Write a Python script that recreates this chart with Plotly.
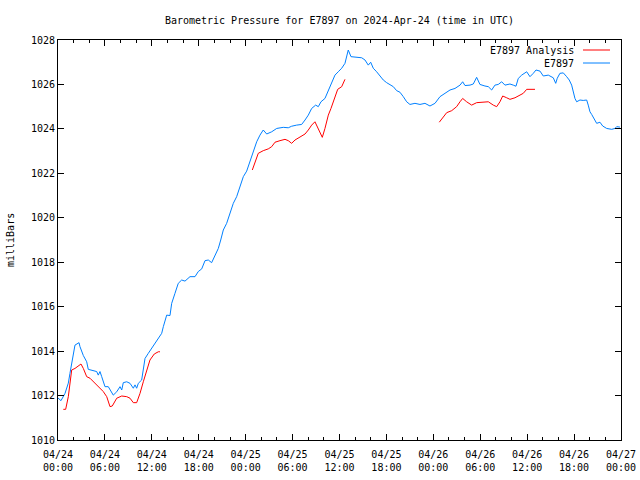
import pandas as pd
import plotly.graph_objects as go

START = pd.Timestamp("2024-04-24 00:00")

# E7897 observed (hours since 04/24 00:00, millibars)
obs_hours = [0.0, 0.38, 0.9, 1.32, 1.53, 1.75, 1.96, 2.17, 2.69, 2.81, 3.24, 3.67, 3.87, 4.51, 4.95,
             5.15, 5.37, 5.59, 6.01, 6.43, 6.87, 7.07, 7.51, 7.93, 8.15, 8.35, 8.79, 9.21, 9.63, 9.85,
             10.06, 10.27, 10.7, 10.91, 11.13, 11.55, 11.98, 12.4, 12.83, 13.26, 13.47, 13.9, 14.32,
             14.54, 14.96, 15.38, 15.82, 16.24, 16.88, 17.52, 17.94, 18.38, 18.8, 19.22, 19.65, 20.08,
             20.5, 20.81, 21.14, 21.57, 22.0, 22.42, 22.85, 23.27, 23.7, 24.13, 24.55, 24.97, 25.41,
             25.83, 26.25, 26.69, 27.33, 27.97, 28.81, 29.45, 29.88, 30.52, 31.16, 31.59, 32.01, 32.44,
             32.95, 33.29, 33.63, 34.14, 34.57, 35.0, 35.42, 35.84, 36.28, 36.7, 37.12, 37.47, 37.98,
             38.84, 39.26, 39.68, 39.99, 40.32, 40.75, 41.18, 41.6, 42.03, 42.46, 42.88, 43.31, 43.73,
             44.16, 44.59, 45.01, 45.65, 46.29, 46.93, 47.57, 48.21, 48.85, 49.49, 50.13, 50.77, 51.41,
             51.75, 52.05, 52.69, 53.11, 53.54, 53.96, 54.6, 55.03, 55.46, 55.88, 56.3, 56.74, 57.16,
             57.8, 58.22, 58.57, 58.86, 59.3, 59.94, 60.36, 60.78, 61.13, 61.64, 62.06, 62.7, 63.34,
             63.65, 63.85, 64.19, 64.62, 65.05, 65.38, 65.69, 65.9, 66.11, 66.33, 66.75, 67.17, 67.61,
             67.81, 68.03, 68.25, 68.54, 68.89, 69.31, 69.66, 70.17, 70.81, 71.23, 71.45, 71.87]
obs_values = [1011.89, 1011.77, 1012.1, 1012.56, 1013.0, 1013.46, 1013.9, 1014.27, 1014.38, 1014.2,
              1013.8, 1013.52, 1013.18, 1013.12, 1013.08, 1012.92, 1013.08, 1012.85, 1012.4, 1012.4,
              1012.17, 1012.02, 1012.17, 1012.4, 1012.25, 1012.58, 1012.62, 1012.55, 1012.33, 1012.48,
              1012.33, 1012.55, 1012.7, 1013.15, 1013.67, 1013.9, 1014.13, 1014.35, 1014.58, 1014.8,
              1015.1, 1015.62, 1015.6, 1016.15, 1016.6, 1017.05, 1017.2, 1017.15, 1017.35, 1017.35,
              1017.58, 1017.7, 1018.07, 1018.1, 1017.98, 1018.32, 1018.62, 1019.0, 1019.45, 1019.75,
              1020.2, 1020.65, 1020.95, 1021.4, 1021.85, 1022.1, 1022.55, 1022.9, 1023.42, 1023.72,
              1023.95, 1023.77, 1023.87, 1024.02, 1024.07, 1024.05, 1024.12, 1024.17, 1024.2, 1024.4,
              1024.62, 1024.92, 1025.07, 1025.0, 1025.22, 1025.37, 1025.75, 1026.05, 1026.42, 1026.57,
              1026.73, 1026.95, 1027.55, 1027.25, 1027.22, 1027.2, 1027.1, 1026.87, 1027.0, 1026.73,
              1026.57, 1026.38, 1026.2, 1026.08, 1025.97, 1025.9, 1025.72, 1025.65, 1025.45, 1025.22,
              1025.1, 1025.15, 1025.1, 1025.15, 1025.03, 1025.15, 1025.45, 1025.6, 1025.75, 1025.82,
              1025.97, 1026.12, 1025.95, 1025.97, 1026.02, 1026.32, 1026.0, 1025.93, 1025.9, 1025.75,
              1025.97, 1026.0, 1026.12, 1025.97, 1026.02, 1025.97, 1025.92, 1026.27, 1026.42, 1026.57,
              1026.35, 1026.5, 1026.65, 1026.6, 1026.38, 1026.42, 1026.3, 1026.05, 1026.28, 1026.5,
              1026.52, 1026.35, 1026.2, 1025.97, 1025.67, 1025.37, 1025.22, 1025.3, 1025.28, 1025.3,
              1025.07, 1024.77, 1024.65, 1024.48, 1024.25, 1024.3, 1024.13, 1024.02, 1023.98, 1024.02,
              1024.1, 1024.08]

# E7897 Analysis (three runs, separated by gaps)
ana_hours = [0.68, 0.98, 1.32, 1.53, 1.75, 2.17, 2.6, 2.94, 3.24, 3.67, 4.09, 4.51, 5.15, 5.79, 6.23,
             6.65, 6.94, 7.51, 8.15, 8.79, 9.21, 9.63, 10.06, 10.49, 10.91, 11.34, 11.76, 12.31, 12.83,
             13.04,
             None,
             24.85, 25.19, 25.61, 26.25, 26.89, 27.33, 27.75, 28.39, 29.03, 29.45, 29.88, 30.31, 30.95,
             31.59, 32.01, 32.44, 32.86, 33.29, 33.8, 34.14, 34.57, 34.91, 35.33, 35.77, 36.28, 36.7,
             None,
             48.76, 49.27, 49.71, 50.35, 50.98, 51.41, 51.75, 52.26, 52.9, 53.54, 54.39, 55.03, 55.67,
             56.1, 56.52, 56.87, 57.38, 57.8, 58.44, 59.08, 59.5, 59.94, 61.0]
ana_values = [1011.38, 1011.38, 1011.95, 1012.55, 1013.15, 1013.22, 1013.32, 1013.42, 1013.22, 1012.85,
              1012.78, 1012.62, 1012.4, 1012.18, 1011.95, 1011.5, 1011.53, 1011.88, 1011.98, 1011.95,
              1011.88, 1011.68, 1011.68, 1012.1, 1012.62, 1013.15, 1013.6, 1013.87, 1013.97, 1013.97,
              None,
              1022.15, 1022.45, 1022.9, 1023.02, 1023.1, 1023.2, 1023.4, 1023.47, 1023.53, 1023.47,
              1023.35, 1023.5, 1023.65, 1023.77, 1023.95, 1024.17, 1024.32, 1024.02, 1023.62, 1024.02,
              1024.62, 1024.92, 1025.3, 1025.78, 1025.9, 1026.23,
              None,
              1024.3, 1024.55, 1024.73, 1024.82, 1025.0, 1025.22, 1025.37, 1025.22, 1025.07, 1025.18,
              1025.2, 1025.22, 1025.07, 1025.0, 1025.22, 1025.48, 1025.4, 1025.33, 1025.4, 1025.52,
              1025.6, 1025.78, 1025.78]

tick_hours = list(range(0, 73, 6))
tick_labels = ["04/24<br>00:00", "04/24<br>06:00", "04/24<br>12:00", "04/24<br>18:00",
               "04/25<br>00:00", "04/25<br>06:00", "04/25<br>12:00", "04/25<br>18:00",
               "04/26<br>00:00", "04/26<br>06:00", "04/26<br>12:00", "04/26<br>18:00",
               "04/27<br>00:00"]
y_ticks = [1010, 1012, 1014, 1016, 1018, 1020, 1022, 1024, 1026, 1028]

RED = "#ff0000"
BLUE = "#0080ff"
FONT = "DejaVu Sans Mono"


def to_time(hours):
    return [None if h is None else START + pd.Timedelta(hours=h) for h in hours]


fig = go.Figure()
fig.add_trace(go.Scatter(x=to_time(ana_hours), y=ana_values, mode="lines",
                         line=dict(color=RED, width=1), name="E7897 Analysis",
                         connectgaps=False))
fig.add_trace(go.Scatter(x=to_time(obs_hours), y=obs_values, mode="lines",
                         line=dict(color=BLUE, width=1), name="E7897"))

fig.update_layout(
    width=640, height=480,
    margin=dict(l=58, r=19, t=40, b=40, autoexpand=False),
    paper_bgcolor="white", plot_bgcolor="white",
    showlegend=False,
    font=dict(family=FONT, size=10, color="black"),
    title=dict(text="Barometric Pressure for E7897 on 2024-Apr-24 (time in UTC)",
               x=339.5 / 640, xanchor="center", y=1 - 20 / 480, yanchor="middle",
               font=dict(family=FONT, size=10, color="black")),
)

fig.update_xaxes(
    type="date", automargin=False,
    range=[START, START + pd.Timedelta(hours=72)],
    tickvals=to_time(tick_hours), ticktext=tick_labels,
    ticks="inside", ticklen=6, tickcolor="black", tickwidth=1,
    ticklabelstandoff=5,
    minor=dict(dtick=2 * 3600 * 1000, tick0=START, ticks="inside", ticklen=3,
               tickcolor="black", tickwidth=1, showgrid=False),
    showline=True, linecolor="black", linewidth=1, mirror="allticks",
    showgrid=False, zeroline=False,
    tickfont=dict(family=FONT, size=10, color="black"),
)
fig.update_yaxes(
    range=[1010, 1028], automargin=False,
    tickvals=y_ticks, ticktext=[str(v) for v in y_ticks],
    ticks="inside", ticklen=6, tickcolor="black", tickwidth=1,
    showline=True, linecolor="black", linewidth=1, mirror="allticks",
    showgrid=False, zeroline=False,
    tickfont=dict(family=FONT, size=10, color="black"),
)

# y-axis label
fig.add_annotation(text="milliBars", xref="paper", yref="paper",
                   x=-48 / 563, y=0.5, xanchor="center", yanchor="middle", textangle=-90,
                   showarrow=False, font=dict(family=FONT, size=10, color="black"))

# legend drawn gnuplot-style: right-aligned text with line sample to the right
legend_items = [("E7897 Analysis", RED), ("E7897", BLUE)]
for i, (label, color) in enumerate(legend_items):
    ypix = 50 + i * 13
    yp = 1 - (ypix - 40) / 400
    fig.add_annotation(text=label, xref="paper", yref="paper",
                       x=(576 - 58) / 563, y=yp, xanchor="right", yanchor="middle",
                       showarrow=False, font=dict(family=FONT, size=10, color="black"))
    fig.add_shape(type="line", xref="paper", yref="paper",
                  x0=(583 - 58) / 563, x1=(610 - 58) / 563, y0=yp, y1=yp,
                  line=dict(color=color, width=1))

fig.write_html("out.html",
               config={"displayModeBar": False},
               post_script="document.body.style.margin='0px';document.body.style.padding='0px';")
